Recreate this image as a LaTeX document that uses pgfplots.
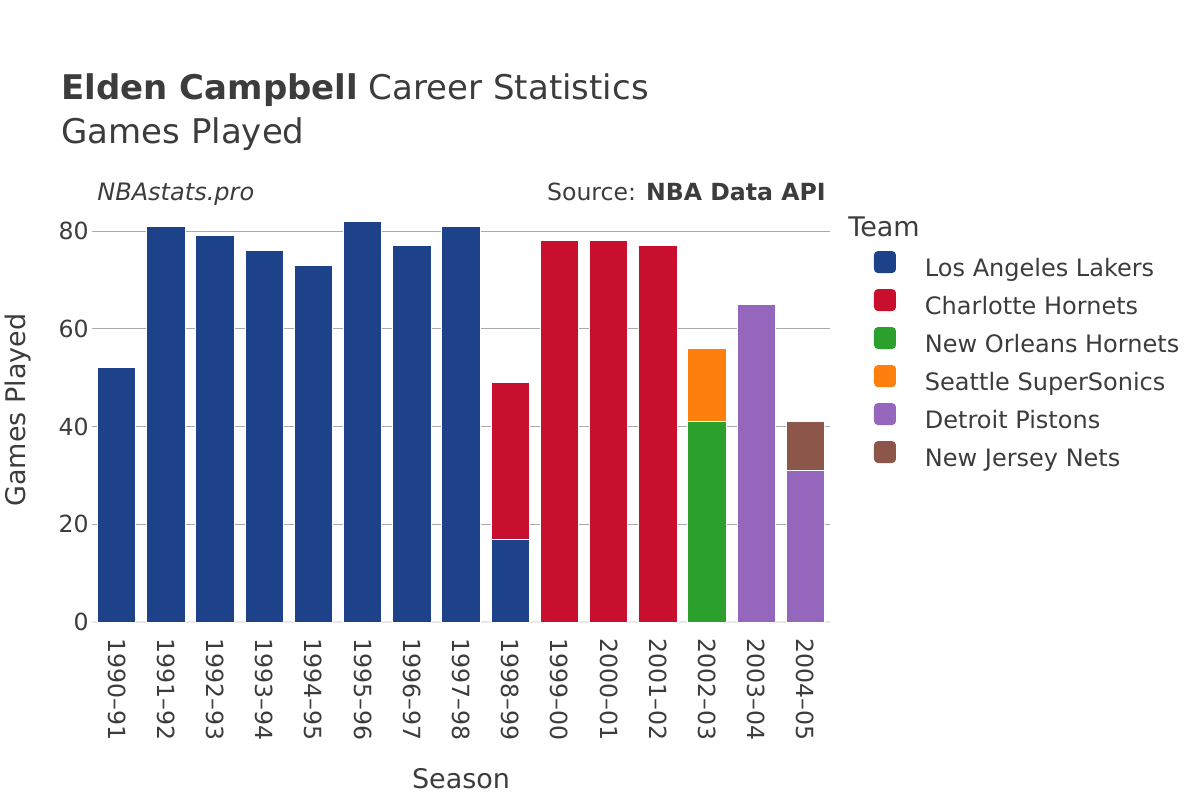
\documentclass[border=0pt]{standalone}
\usepackage{pgfplots}
\pgfplotsset{compat=1.18}
\usepackage{fontspec}
\setmainfont{DejaVu Sans}
\definecolor{txt}{RGB}{60,60,60}
\definecolor{gridc}{RGB}{170,170,170}
\definecolor{zeroc}{RGB}{232,232,232}
\definecolor{lal}{RGB}{29,66,138}
\definecolor{cha}{RGB}{200,16,46}
\definecolor{noh}{RGB}{44,160,44}
\definecolor{sea}{RGB}{255,127,14}
\definecolor{det}{RGB}{148,103,189}
\definecolor{njn}{RGB}{140,86,75}
\newcommand{\fs}[1]{\fontsize{#1}{#1}\selectfont}
\begin{document}
\begin{tikzpicture}
\path[use as bounding box] (0,0) rectangle (600pt,400pt);
\begin{axis}[
  at={(46pt,89pt)}, anchor=south west,
  scale only axis, width=369pt, height=210.4pt,
  ybar stacked, bar width=0.78,
  xmin=-0.5, xmax=14.5, ymin=0, ymax=86.1,
  axis line style={draw=none},
  xtick=data,
  xticklabels={1990–91,1991–92,1992–93,1993–94,1994–95,1995–96,1996–97,1997–98,1998–99,1999–00,2000–01,2001–02,2002–03,2003–04,2004–05},
  xticklabel style={rotate=-90, anchor=west, inner sep=0pt, font=\fs{11.8pt}, text=txt},
  xticklabel shift=8pt,
  ytick={0,20,40,60,80},
  yticklabel style={anchor=east, inner sep=0pt, font=\fs{11.8pt}, text=txt},
  yticklabel shift=1.5pt,
  /pgf/number format/assume math mode=true,
  major tick length=0pt,
  ymajorgrids, grid style={gridc, line width=0.5pt},
  extra y ticks={0}, extra y tick labels={},
  extra y tick style={grid style={zeroc, line width=1.2pt}},
  legend image code/.code={\fill[#1, draw=none, rounded corners=2pt] (0pt,-1.5pt) rectangle (11pt,9.5pt);},
  legend cell align=left,
  legend style={at={(1.0596,0.8815)}, anchor=north west, draw=none, fill=none,
    inner sep=0pt, outer sep=0pt, row sep=4pt,
    nodes={inner sep=0pt, text height=8.5pt, text depth=2.5pt, font=\fs{12pt}, text=txt},
    /tikz/every odd column/.append style={column sep=14.5pt}},
  every axis plot/.append style={draw=white, line width=0.4pt},
]
\addplot[fill=lal] coordinates {(0,52) (1,81) (2,79) (3,76) (4,73) (5,82) (6,77) (7,81) (8,17) (9,0) (10,0) (11,0) (12,0) (13,0) (14,0)};
\addlegendentry{Los Angeles Lakers}
\addplot[fill=cha] coordinates {(0,0) (1,0) (2,0) (3,0) (4,0) (5,0) (6,0) (7,0) (8,32) (9,78) (10,78) (11,77) (12,0) (13,0) (14,0)};
\addlegendentry{Charlotte Hornets}
\addplot[fill=noh] coordinates {(0,0) (1,0) (2,0) (3,0) (4,0) (5,0) (6,0) (7,0) (8,0) (9,0) (10,0) (11,0) (12,41) (13,0) (14,0)};
\addlegendentry{New Orleans Hornets}
\addplot[fill=sea] coordinates {(0,0) (1,0) (2,0) (3,0) (4,0) (5,0) (6,0) (7,0) (8,0) (9,0) (10,0) (11,0) (12,15) (13,0) (14,0)};
\addlegendentry{Seattle SuperSonics}
\addplot[fill=det] coordinates {(0,0) (1,0) (2,0) (3,0) (4,0) (5,0) (6,0) (7,0) (8,0) (9,0) (10,0) (11,0) (12,0) (13,65) (14,31)};
\addlegendentry{Detroit Pistons}
\addplot[fill=njn] coordinates {(0,0) (1,0) (2,0) (3,0) (4,0) (5,0) (6,0) (7,0) (8,0) (9,0) (10,0) (11,0) (12,0) (13,0) (14,10)};
\addlegendentry{New Jersey Nets}
\end{axis}
\node[anchor=base west, inner sep=0pt, text=txt, font=\fs{17pt}] at (30.5pt,350pt) {\textbf{Elden Campbell} Career Statistics};
\node[anchor=base west, inner sep=0pt, text=txt, font=\fs{17pt}] at (30.5pt,328pt) {Games Played};
\node[anchor=base west, inner sep=0pt, text=txt, font=\fs{12pt}\itshape] at (48.5pt,300pt) {NBAstats.pro};
\node[anchor=base east, inner sep=0pt, text=txt, font=\fs{11.8pt}] at (413pt,300pt) {Source: \textbf{NBA Data API}};
\node[anchor=base west, inner sep=0pt, text=txt, font=\fs{13.5pt}] at (424pt,282pt) {Team};
\node[anchor=base, inner sep=0pt, text=txt, font=\fs{13.5pt}] at (230.5pt,5.75pt) {Season};
\node[rotate=90, inner sep=0pt, text=txt, font=\fs{13.5pt}] at (9pt,195pt) {Games Played};
\end{tikzpicture}
\end{document}
